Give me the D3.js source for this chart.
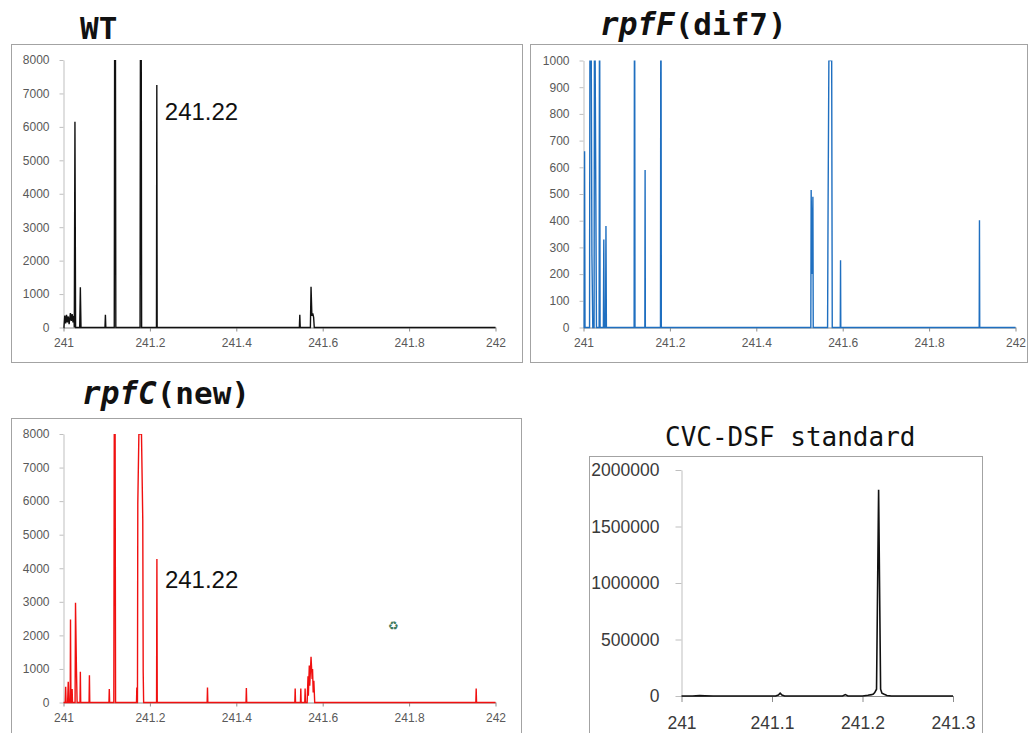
<!DOCTYPE html>
<html>
<head>
<meta charset="utf-8">
<script src="https://cdn.jsdelivr.net/npm/d3@7"></script>
<style>
  body { margin: 0; background: #ffffff; }
  svg { display: block; }
</style>
</head>
<body>
<svg id="fig" width="1029" height="733"></svg>
<script>
// Mass spectra around m/z 241–242, each as [m/z, intensity] points.
const wtSpectrum = [
  [241.000, 0], [241.001, 0], [241.003, 360], [241.005, 120], [241.007, 380], [241.009, 150],
  [241.011, 330], [241.013, 100], [241.016, 430], [241.018, 200], [241.020, 400], [241.022, 150],
  [241.024, 350], [241.025, 0], [241.0265, 6150], [241.028, 0],
  [241.0375, 0], [241.039, 1200], [241.0405, 0],
  [241.0960, 0], [241.0970, 380], [241.0980, 0],
  [241.1175, 0], [241.1183, 8000], [241.1203, 8000], [241.1211, 0],
  [241.1772, 0], [241.1780, 8000], [241.1800, 8000], [241.1808, 0],
  [241.2152, 0], [241.2160, 7250], [241.2168, 0],
  [241.5460, 0], [241.5470, 380], [241.5480, 0],
  [241.5715, 0], [241.5730, 1220], [241.5750, 350], [241.5770, 420], [241.5790, 300], [241.5805, 0],
  [242.000, 0]
];

const rpfFSpectrum = [
  [241.000, 0], [241.0015, 0], [241.0025, 660], [241.0035, 0],
  [241.0140, 0], [241.0148, 1000], [241.0180, 1000], [241.0195, 270], [241.0215, 0],
  [241.0245, 0], [241.0252, 1000], [241.0270, 1000], [241.0285, 500], [241.0300, 0],
  [241.0362, 0], [241.0368, 1000], [241.0376, 1000], [241.0384, 0],
  [241.0460, 0], [241.0470, 330], [241.0480, 0],
  [241.0510, 0], [241.0520, 380], [241.0530, 0],
  [241.1172, 0], [241.1178, 1000], [241.1186, 1000], [241.1192, 0],
  [241.1420, 0], [241.1426, 590], [241.1432, 0],
  [241.1782, 0], [241.1788, 1000], [241.1796, 1000], [241.1802, 0],
  [241.5262, 0], [241.5270, 515], [241.5290, 200], [241.5310, 490], [241.5318, 0],
  [241.5650, 0], [241.5662, 470], [241.5680, 1000], [241.5745, 1000], [241.5758, 0],
  [241.5944, 0], [241.5950, 252], [241.5956, 0],
  [241.9160, 0], [241.9166, 402], [241.9172, 0],
  [242.000, 0]
];

const rpfCSpectrum = [
  [241.000, 0], [241.0040, 0], [241.0050, 465], [241.0060, 0],
  [241.0095, 0], [241.0110, 615], [241.0125, 0],
  [241.0155, 0], [241.0162, 2475], [241.0172, 0],
  [241.0192, 0], [241.0200, 400], [241.0208, 0],
  [241.0268, 0], [241.0278, 2970], [241.0300, 985], [241.0315, 0],
  [241.0382, 0], [241.0390, 913], [241.0398, 0],
  [241.0592, 0], [241.0600, 814], [241.0608, 0],
  [241.1052, 0], [241.1060, 400], [241.1068, 0],
  [241.1165, 0], [241.1175, 8000], [241.1195, 8000], [241.1205, 0],
  [241.1690, 0], [241.1697, 450], [241.1704, 0],
  [241.1712, 0], [241.1720, 5935], [241.1745, 8000], [241.1805, 8000], [241.1835, 5435], [241.1845, 900], [241.1855, 0],
  [241.2154, 0], [241.2162, 4273], [241.2170, 0],
  [241.3325, 0], [241.3333, 447], [241.3341, 0],
  [241.4225, 0], [241.4233, 430], [241.4241, 0],
  [241.5355, 0], [241.5363, 417], [241.5371, 0],
  [241.5485, 0], [241.5493, 420], [241.5501, 0],
  [241.5585, 0], [241.5593, 420], [241.5601, 0],
  [241.5640, 0], [241.5660, 780], [241.5668, 200], [241.5690, 1100], [241.5700, 500],
  [241.5730, 1360], [241.5755, 700], [241.5765, 1000], [241.5780, 300], [241.5795, 650], [241.5815, 0],
  [241.9545, 0], [241.9553, 417], [241.9561, 0],
  [242.000, 0]
];

const standardSpectrum = [
  [241.000, 0], [241.012, 0], [241.020, 3000], [241.026, 1500], [241.035, 0],
  [241.104, 0], [241.107, 9000], [241.109, 25000], [241.111, 9000], [241.114, 0],
  [241.178, 0], [241.181, 12000], [241.184, 0],
  [241.200, 0], [241.206, 6000], [241.210, 12000], [241.212, 18000], [241.2135, 30000],
  [241.2155, 60000], [241.2178, 1825000], [241.2200, 60000], [241.2215, 25000],
  [241.224, 15000], [241.227, 5000], [241.232, 0], [241.300, 0]
];

// Axis ticks
const mzTicksWide = [241, 241.2, 241.4, 241.6, 241.8, 242];
const mzTicksNarrow = [241, 241.1, 241.2, 241.3];
const intensityTicks8000 = [0, 1000, 2000, 3000, 4000, 5000, 6000, 7000, 8000];
const intensityTicks1000 = [0, 100, 200, 300, 400, 500, 600, 700, 800, 900, 1000];
const intensityTicksStd = [0, 500000, 1000000, 1500000, 2000000];

// Annotated peak
const peakLabel = "241.22";

const svg = d3.select("#fig");
const mzFormat = d => String(+d.toFixed(1));

function drawPanel(opt) {
  const g = svg.append("g");

  // chart-area border
  g.append("rect")
    .attr("x", opt.frame.x + 0.5).attr("y", opt.frame.y + 0.5)
    .attr("width", opt.frame.w).attr("height", opt.frame.h)
    .attr("fill", "#ffffff").attr("stroke", "#a3a3a3").attr("stroke-width", 1);

  const x = d3.scaleLinear().domain(opt.xDomain).range([opt.plot.left, opt.plot.right]);
  const y = d3.scaleLinear().domain(opt.yDomain).range([opt.plot.bottom, opt.plot.top]);

  // y axis
  const yAxis = g.append("g")
    .attr("transform", `translate(${opt.plot.left},0)`)
    .call(d3.axisLeft(y).tickValues(opt.yTicks).tickSize(opt.tickSize).tickSizeOuter(0)
      .tickPadding(opt.yPad).tickFormat(d3.format("d")));
  yAxis.select(".domain").attr("stroke", "#bfbfbf");
  yAxis.selectAll(".tick line").attr("stroke", "#bfbfbf");
  yAxis.selectAll(".tick text")
    .attr("fill", opt.labelColor).attr("font-family", "Liberation Sans, Arial, sans-serif")
    .attr("font-size", opt.labelSize);

  // x axis
  const xAxis = g.append("g")
    .attr("transform", `translate(0,${opt.plot.bottom})`)
    .call(d3.axisBottom(x).tickValues(opt.xTicks).tickSize(opt.tickSize).tickSizeOuter(0)
      .tickPadding(opt.xPad).tickFormat(mzFormat));
  xAxis.select(".domain").attr("stroke", "#8c8c8c");
  xAxis.selectAll(".tick line").attr("stroke", "#8c8c8c");
  xAxis.selectAll(".tick text")
    .attr("fill", opt.labelColor).attr("font-family", "Liberation Sans, Arial, sans-serif")
    .attr("font-size", opt.labelSize);

  // spectrum trace, clipped to the plot area
  const clipId = "clip-" + opt.id;
  svg.append("clipPath").attr("id", clipId)
    .append("rect")
    .attr("x", opt.plot.left - 1).attr("y", opt.plot.top)
    .attr("width", opt.plot.right - opt.plot.left + 2)
    .attr("height", opt.plot.bottom - opt.plot.top + 2);

  const line = d3.line().x(d => x(d[0])).y(d => y(d[1]));
  g.append("path")
    .datum(opt.data)
    .attr("clip-path", `url(#${clipId})`)
    .attr("d", line)
    .attr("fill", "none")
    .attr("stroke", opt.color)
    .attr("stroke-width", opt.lineWidth)
    .attr("stroke-linejoin", "miter")
    .attr("stroke-miterlimit", 2);

  return { g, x, y };
}

function addTitle(x, y, parts, size, weight) {
  const t = svg.append("text")
    .attr("x", x).attr("y", y)
    .attr("font-family", "DejaVu Sans Mono, monospace")
    .attr("font-size", size)
    .attr("font-weight", weight)
    .attr("fill", "#111111");
  parts.forEach(p => {
    t.append("tspan").attr("font-style", p.italic ? "italic" : "normal").text(p.text);
  });
}

function addPeakLabel(panel, mz, intensity, dx, dy) {
  panel.g.append("text")
    .attr("x", panel.x(mz) + dx)
    .attr("y", panel.y(intensity) + dy)
    .attr("font-family", "Liberation Sans, Arial, sans-serif")
    .attr("font-size", 24)
    .attr("fill", "#111111")
    .text(peakLabel);
}

// WT
const wt = drawPanel({
  id: "wt", data: wtSpectrum, color: "#111111", lineWidth: 1.4,
  frame: { x: 11, y: 44, w: 511, h: 318 },
  plot: { left: 63.5, right: 495.5, top: 60, bottom: 327.5 },
  xDomain: [241, 242], yDomain: [0, 8000],
  xTicks: mzTicksWide, yTicks: intensityTicks8000,
  tickSize: 4, xPad: 7, yPad: 10, labelSize: 12, labelColor: "#595959"
});
addPeakLabel(wt, 241.216, 7250, 8, 35);

// rpfF
drawPanel({
  id: "rpff", data: rpfFSpectrum, color: "#1f6fc0", lineWidth: 1.4,
  frame: { x: 530, y: 44, w: 497, h: 318 },
  plot: { left: 583.5, right: 1015.5, top: 60.5, bottom: 327.5 },
  xDomain: [241, 242], yDomain: [0, 1000],
  xTicks: mzTicksWide, yTicks: intensityTicks1000,
  tickSize: 4, xPad: 7, yPad: 10, labelSize: 12, labelColor: "#595959"
});

// rpfC
const rpfc = drawPanel({
  id: "rpfc", data: rpfCSpectrum, color: "#f01010", lineWidth: 1.4,
  frame: { x: 11, y: 418, w: 510, h: 330 },
  plot: { left: 63.5, right: 495.5, top: 434, bottom: 702.5 },
  xDomain: [241, 242], yDomain: [0, 8000],
  xTicks: mzTicksWide, yTicks: intensityTicks8000,
  tickSize: 4, xPad: 7, yPad: 10, labelSize: 12, labelColor: "#595959"
});
addPeakLabel(rpfc, 241.2162, 4273, 8, 29);

// CVC-DSF standard
drawPanel({
  id: "std", data: standardSpectrum, color: "#111111", lineWidth: 1.6,
  frame: { x: 589, y: 456, w: 393, h: 290 },
  plot: { left: 681.5, right: 953, top: 470, bottom: 696 },
  xDomain: [241, 241.3], yDomain: [0, 2000000],
  xTicks: mzTicksNarrow, yTicks: intensityTicksStd,
  tickSize: 6, xPad: 15, yPad: 16, labelSize: 17.5, labelColor: "#3a3a3a"
});

// Panel titles
addTitle(80, 39, [{ text: "WT" }], 31, "bold");
addTitle(600, 35, [{ text: "rpfF", italic: true }, { text: "(dif7)" }], 31, "bold");
addTitle(82, 404, [{ text: "rpfC", italic: true }, { text: "(new)" }], 31, "bold");
addTitle(665, 446, [{ text: "CVC-DSF standard" }], 26, "normal");

// small green glyph inside the rpfC panel
svg.append("text")
  .attr("x", 388).attr("y", 630)
  .attr("font-family", "DejaVu Sans, sans-serif")
  .attr("font-size", 12)
  .attr("fill", "#3f7a5c")
  .text("\u267B");
</script>
</body>
</html>
